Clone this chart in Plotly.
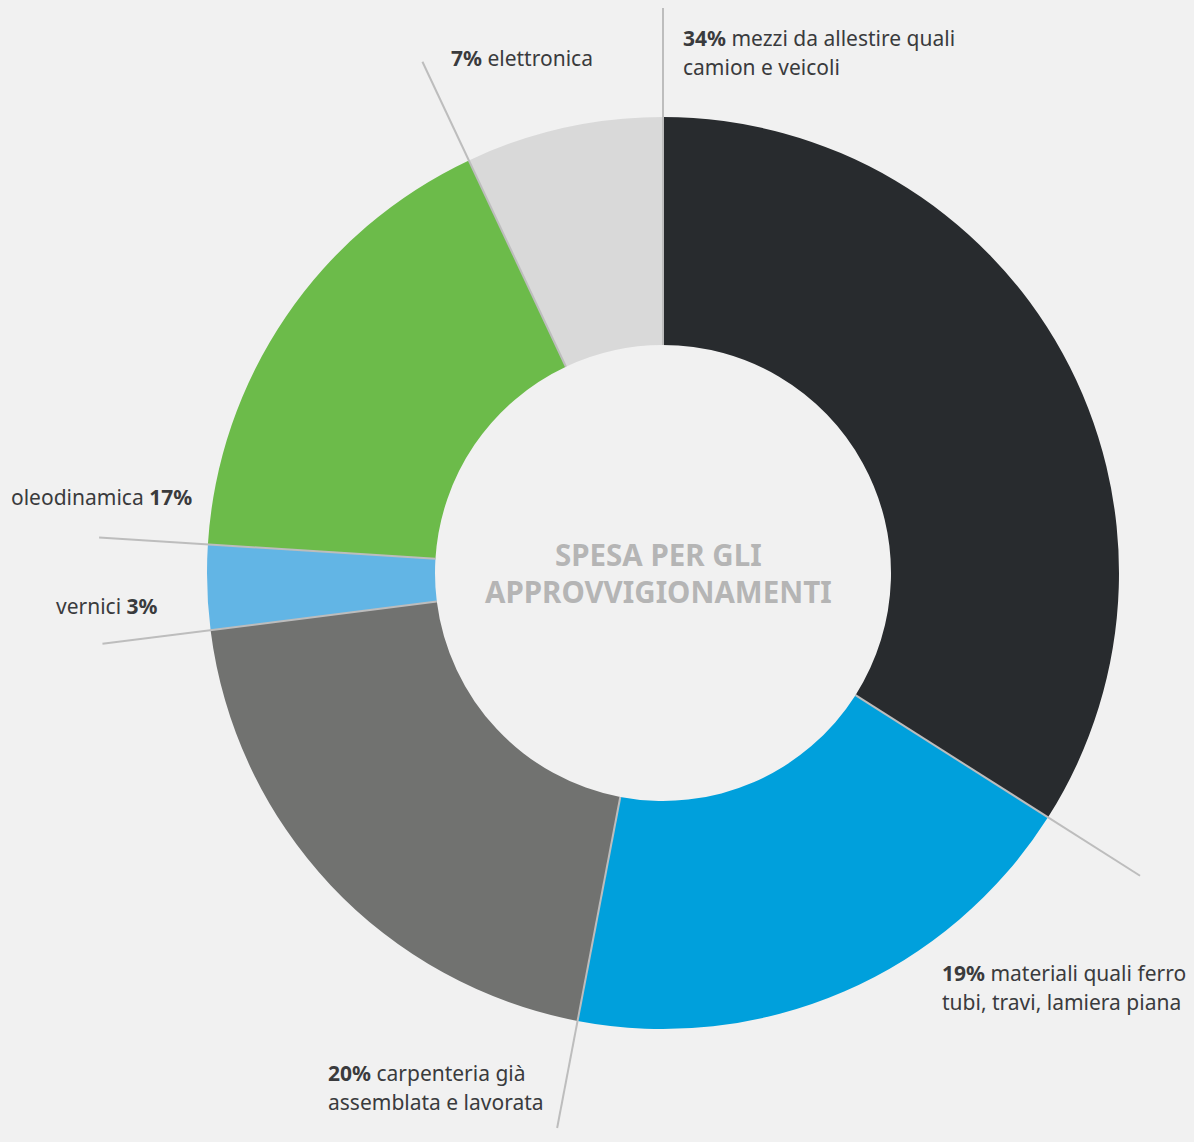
import math
import plotly.graph_objects as go

# Spending breakdown, clockwise from 12 o'clock
categories = [
    "mezzi da allestire quali camion e veicoli",
    "materiali quali ferro tubi, travi, lamiera piana",
    "carpenteria già assemblata e lavorata",
    "vernici",
    "oleodinamica",
    "elettronica",
]
shares = [34, 19, 20, 3, 17, 7]
colors = ["#282b2e", "#00a0dc", "#717270", "#62b5e5", "#6cbb4a", "#d9d9d9"]

# Label lines: (bold percentage, rest of line 1, line 2, x px, y px, anchor, pct first?)
label_lines = [
    ("34%", " mezzi da allestire quali", "camion e veicoli", 681, 38, "left", True),
    ("19%", " materiali quali ferro", "tubi, travi, lamiera piana", 940, 973, "left", True),
    ("20%", " carpenteria già", "assemblata e lavorata", 326, 1073, "left", True),
    ("3%", "vernici ", "", 160, 606, "right", False),
    ("17%", "oleodinamica ", "", 194, 497, "right", False),
    ("7%", " elettronica", "", 449, 58, "left", True),
]

W, H = 1194, 1142
CX, CY = 663, 573          # donut centre, px
R_OUT = 456                # outer radius, px
HOLE = 0.5
R_LEADER = 565             # leader line reach, px

FONT = "Noto Sans"
TEXT_COLOR = "#3a3b3d"
LABEL_SIZE = 21

fig = go.Figure()
fig.add_trace(go.Pie(
    labels=categories,
    values=shares,
    marker=dict(colors=colors, line=dict(width=0)),
    hole=HOLE,
    sort=False,
    direction="clockwise",
    rotation=0,
    textinfo="none",
    hoverinfo="skip",
    showlegend=False,
    domain=dict(
        x=[(CX - R_OUT) / W, (CX + R_OUT) / W],
        y=[(H - CY - R_OUT) / H, (H - CY + R_OUT) / H],
    ),
))

# Leader lines along every slice boundary, from the hole outward
shapes = []
total = sum(shares)
cum = 0
for v in shares:
    ang = 2 * math.pi * cum / total
    r_in = R_OUT * HOLE
    x0 = CX + r_in * math.sin(ang)
    y0 = CY - r_in * math.cos(ang)
    x1 = CX + R_LEADER * math.sin(ang)
    y1 = CY - R_LEADER * math.cos(ang)
    shapes.append(dict(
        type="line", xref="paper", yref="paper",
        x0=x0 / W, y0=1 - y0 / H, x1=x1 / W, y1=1 - y1 / H,
        line=dict(color="#bdbdbd", width=2), layer="above",
    ))
    cum += v

annotations = []
for pct, rest, line2, x, y, anchor, pct_first in label_lines:
    if pct_first:
        txt = f"<b>{pct}</b>{rest}"
    else:
        txt = f"{rest}<b>{pct}</b>"
    annotations.append(dict(
        x=x / W, y=1 - y / H, xref="paper", yref="paper",
        text=txt, showarrow=False, xanchor=anchor, yanchor="middle",
        font=dict(family=FONT, size=LABEL_SIZE, color=TEXT_COLOR),
    ))
    if line2:
        annotations.append(dict(
            x=x / W, y=1 - (y + 29) / H, xref="paper", yref="paper",
            text=line2, showarrow=False, xanchor=anchor, yanchor="middle",
            font=dict(family=FONT, size=LABEL_SIZE, color=TEXT_COLOR),
        ))

# Centre title
for txt, y in [("SPESA PER GLI", 555), ("APPROVVIGIONAMENTI", 591)]:
    annotations.append(dict(
        x=658 / W, y=1 - y / H, xref="paper", yref="paper",
        text=f"<b>{txt}</b>", showarrow=False, xanchor="center", yanchor="middle",
        font=dict(family=FONT, size=29.5, color="#b5b5b5"),
    ))

fig.update_layout(
    width=W, height=H,
    margin=dict(l=0, r=0, t=0, b=0),
    paper_bgcolor="#f1f1f1",
    plot_bgcolor="#f1f1f1",
    shapes=shapes,
    annotations=annotations,
)

fig.write_html("out.html")
